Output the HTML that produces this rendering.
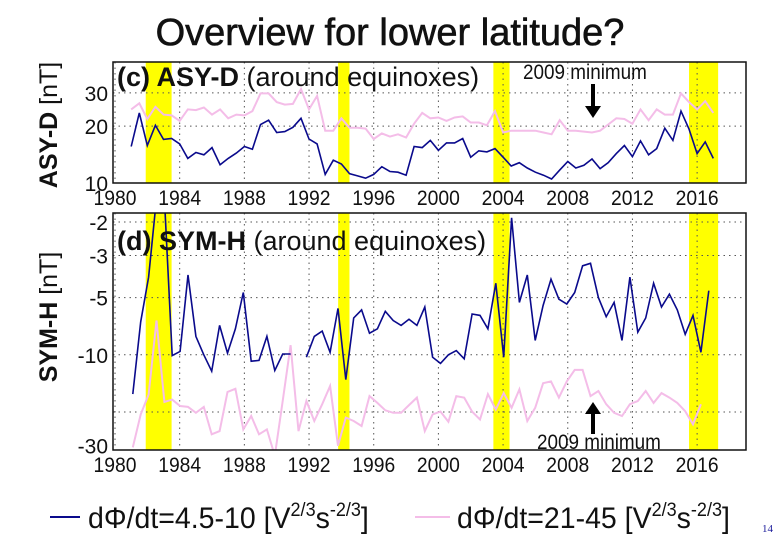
<!DOCTYPE html>
<html><head><meta charset="utf-8"><style>
body{margin:0;background:#fff;}
svg{display:block;font-family:"Liberation Sans",sans-serif;}
</style></head><body>
<svg id="chart" width="780" height="540" viewBox="0 0 780 540" xmlns="http://www.w3.org/2000/svg">
<text x="390" y="45" text-anchor="middle" font-size="38" fill="#111" stroke="#111" stroke-width="0.6">Overview for lower latitude?</text>
<line x1="50" y1="517" x2="80" y2="517" stroke="#0a0a8c" stroke-width="2"/>
<text x="88" y="528" font-size="30" fill="#111" transform="translate(88 0) scale(0.95 1) translate(-88 0)">dΦ/dt=4.5-10 [V<tspan font-size="19" dy="-12">2/3</tspan><tspan dy="12">s</tspan><tspan font-size="19" dy="-12">-2/3</tspan><tspan dy="12">]</tspan></text>
<line x1="415" y1="517" x2="450" y2="517" stroke="#f4bde8" stroke-width="2"/>
<text x="457" y="528" font-size="30" fill="#111" transform="translate(457 0) scale(0.95 1) translate(-457 0)">dΦ/dt=21-45 [V<tspan font-size="19" dy="-12">2/3</tspan><tspan dy="12">s</tspan><tspan font-size="19" dy="-12">-2/3</tspan><tspan dy="12">]</tspan></text>
<text x="762" y="532" font-size="11" fill="#1a1a9a" font-family="Liberation Serif">14</text>
<g id="g"></g>
</svg>
<script>
// sample times start/step (category axis) per panel
const asyStart = 1981.0, asyStep = 0.5;
const symStart = 1981.1, symStep = 0.488;
const asyBlue = [15.6,23.5,15.8,20.2,17.0,17.2,16.1,13.5,14.5,14.1,15.4,12.5,13.5,14.4,15.6,15.1,20.4,21.5,18.5,18.7,19.7,22.0,17.1,16.1,11.1,13.2,12.6,11.2,10.9,10.6,11.1,12.2,11.5,11.4,11.0,15.6,15.4,16.8,14.9,16.3,16.3,17.2,13.7,14.8,14.6,15.2,13.7,12.3,12.8,12.0,11.4,11.0,10.5,11.7,13.0,12.0,12.4,13.4,11.9,12.8,14.3,15.8,13.8,16.7,14.1,15.2,19.5,16.8,24.0,19.3,14.3,16.5,13.5];
const asyPink = [24.5,26.4,21.8,25.3,23.0,22.8,21.3,24.5,24.3,25.1,23.0,24.5,22.0,23.0,22.8,24.0,29.8,29.8,26.8,26.0,26.2,31.4,24.5,28.9,18.9,18.9,22.0,19.6,19.6,19.4,17.1,18.3,17.6,18.1,17.4,20.6,23.5,22.0,22.2,21.3,22.2,22.5,20.9,20.9,20.2,24.0,18.5,18.9,18.9,18.9,18.9,18.5,18.1,21.5,18.9,18.9,18.7,18.5,18.9,20.4,22.0,21.8,20.6,24.5,21.5,24.5,23.0,23.0,29.8,26.8,24.5,27.1,23.5];
const symBlue = [-16.1,-6.7,-3.9,-1.5,-1.5,-10.1,-9.6,-3.8,-8.0,-10,-12.2,-7.0,-9.8,-7.3,-4.7,-10.8,-10.7,-8.0,-12.1,-9.9,-9.9,null,-10.3,-8.0,-7.5,-9.7,-5.7,-13.5,-6.4,-5.8,-7.7,-7.3,-5.9,-6.6,-7.0,-6.5,-7.0,-5.6,-10.3,-11.1,-10,-9.5,-10.5,-6.1,-6.2,-7.3,-4.2,-10.3,-1.9,-5.3,-3.8,-8.4,-5.5,-4.0,-5.1,-5.4,-4.7,-3.4,-3.3,-5.0,-6.3,-5.3,-8.4,-3.9,-7.6,-6.4,-4.2,-5.6,-4.8,-5.8,-7.8,-6.2,-9.7,-4.6];
const symPink = [-30.7,-20.6,-16.2,-6.6,-17.7,-17.2,-18.6,-18.8,-20.2,-18.8,-26.2,-25.2,-15.7,-15.1,-24.7,-21.0,-26.2,-24.7,-34,-17.5,-8.9,-25.2,-17.5,-22.3,-18.2,-14.6,-30.1,-21.4,-22.3,-23.7,-16.5,-17.9,-19.6,-20.2,-20.2,-18.4,-16.8,-25.2,-20.6,-19.9,-22.5,-16.5,-16.8,-19.9,-21.9,-16.1,-19.4,-15.9,-19.0,-15.2,-22.3,-19.0,-14.1,-13.8,-16.8,-13.8,-12.0,-12.0,-16.5,-15.5,-18.2,-20.2,-21.0,-18.2,-17.5,-15.5,-17.9,-15.9,-16.8,-17.9,-19.8,-23.2,-18.2];
const bandStart = [1981.9,1993.8,2003.4,2015.5];
const bandEnd = [1983.5,1994.5,2004.4,2017.3];
const yearTicks = [1980,1984,1988,1992,1996,2000,2004,2008,2012,2016];
const asyTicks = [10,20,30];
const symTicks = [-2,-3,-5,-10,-30];
const symGrid = [-2,-3,-5,-10,-20];

const NS="http://www.w3.org/2000/svg";
const g=document.getElementById('g');
function mk(tag,attrs,parent){const e=document.createElementNS(NS,tag);for(const k in attrs)e.setAttribute(k,attrs[k]);(parent||g).appendChild(e);return e;}
const L=113,R=746;
function xs(y){return 115+(y-1980)*16.17;}
const T1=62,B1=183;
function ya(v){return 183-(Math.log10(v)-1)*189;}
const T2=213,B2=450;
function ys(v){return 222+(Math.log10(-v)-0.301)*190;}

function panel(top,bot,yfn,gridVals,tickVals,series,name,t0,dt){
  const grp=mk('g',{});
  
  
  const cid='clip-'+name;
  const cp=mk('clipPath',{id:cid},grp);mk('rect',{x:L,y:top,width:R-L,height:bot-top},cp);
  for(let i=0;i<bandStart.length;i++){
    const r=mk('rect',{x:xs(bandStart[i]),y:top,width:xs(bandEnd[i])-xs(bandStart[i]),height:bot-top,fill:'#ffff00'},grp);
    
    
  }
  yearTicks.forEach(y=>{const l=mk('line',{x1:xs(y),x2:xs(y),y1:top,y2:bot,stroke:'#555','stroke-dasharray':'1.5 4','stroke-width':1},grp);
    
    const t=mk('text',{x:xs(y),y:bot+22,'text-anchor':'middle','font-size':21,fill:'#111',transform:`translate(${xs(y)} 0) scale(0.92 1) translate(${-xs(y)} 0)`},grp);t.textContent=y;
    });
  gridVals.forEach(v=>{const l=mk('line',{x1:L,x2:R,y1:yfn(v),y2:yfn(v),stroke:'#555','stroke-dasharray':'1.5 4'},grp);
    });
  tickVals.forEach(v=>{const t=mk('text',{x:108,y:yfn(v)+8,'text-anchor':'end','font-size':21,fill:'#111'},grp);t.textContent=v;
    });
  series.forEach(s=>{
    let d='',pen=false;
    s.vals.forEach((v,i)=>{if(v===null){pen=false;return;}const x=xs(t0+dt*i),y=yfn(v);d+=(pen?'L':'M')+x.toFixed(1)+' '+y.toFixed(1);pen=true;});
    const p=mk('path',{d:d,fill:'none',stroke:s.color,'stroke-width':s.w,'clip-path':`url(#${cid})`},grp);
    
  });
  const f=mk('rect',{x:L,y:top,width:R-L,height:bot-top,fill:'none',stroke:'#111','stroke-width':1.5},grp);
  
}
panel(T1,B1,ya,asyTicks,asyTicks,[{vals:asyPink,color:'#f4bde8',w:2,name:'asy-pink-line'},{vals:asyBlue,color:'#0a0a8c',w:1.6,name:'asy-blue-line'}],'asy-d-panel',asyStart,asyStep);
panel(T2,B2,ys,symGrid,symTicks,[{vals:symPink,color:'#f4bde8',w:2,name:'sym-pink-line'},{vals:symBlue,color:'#0a0a8c',w:1.6,name:'sym-blue-line'}],'sym-h-panel',symStart,symStep);

function txt(html,attrs,name){const t=mk('text',attrs);t.innerHTML=html;return t;}
txt('<tspan font-weight="bold">(c) ASY-D</tspan> (around equinoxes)',{x:117,y:86,'font-size':27,fill:'#111'},'asy-title');
txt('<tspan font-weight="bold">(d) SYM-H</tspan> (around equinoxes)',{x:117,y:250,'font-size':27,fill:'#111'},'sym-title');
txt('<tspan font-weight="bold">ASY-D</tspan> [nT]',{x:0,y:0,'font-size':25,fill:'#111','text-anchor':'middle',transform:'translate(57 125) rotate(-90)'},'asy-y-title');
txt('<tspan font-weight="bold">SYM-H</tspan> [nT]',{x:0,y:0,'font-size':25,fill:'#111','text-anchor':'middle',transform:'translate(57 317) rotate(-90)'},'sym-y-title');
txt('2009 minimum',{x:523,y:79,'font-size':21,fill:'#111',transform:'translate(523 0) scale(0.9 1) translate(-523 0)'},'annotation-top');
txt('2009 minimum',{x:537,y:449,'font-size':21,fill:'#111',transform:'translate(537 0) scale(0.9 1) translate(-537 0)'},'annotation-bottom');
const a1=mk('path',{d:'M591 84 L595 84 L595 106 L601 106 L593 118 L585 106 L591 106 Z',fill:'#000'});

const a2=mk('path',{d:'M591 434 L595 434 L595 414 L601 414 L593 402 L585 414 L591 414 Z',fill:'#000'});

</script>
</body></html>
